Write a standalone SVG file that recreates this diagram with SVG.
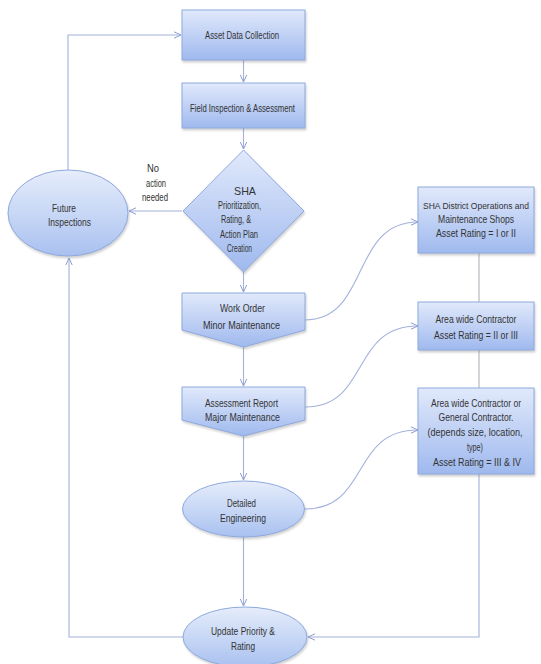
<svg xmlns="http://www.w3.org/2000/svg" width="541" height="664" viewBox="0 0 541 664">
  <defs>
    <linearGradient id="boxFill" x1="0" y1="0" x2="0" y2="1">
      <stop offset="0" stop-color="#e1e9fb"/>
      <stop offset="1" stop-color="#9fb9ee"/>
    </linearGradient>
    <linearGradient id="ovalFill" x1="0" y1="0" x2="0" y2="1">
      <stop offset="0" stop-color="#e6edfb"/>
      <stop offset="1" stop-color="#a9c1f0"/>
    </linearGradient>
    <filter id="shadow" x="-10%" y="-10%" width="125%" height="135%">
      <feDropShadow dx="1" dy="2" stdDeviation="1.2" flood-color="#7a7a7a" flood-opacity="0.35"/>
    </filter>
    <marker id="arrow" viewBox="0 0 8 8" refX="7.5" refY="4" markerWidth="8" markerHeight="8" markerUnits="userSpaceOnUse" orient="auto">
      <path d="M0.5,0.8 L7.5,4 L0.5,7.2" fill="none" stroke="#8c9fd2" stroke-width="1"/>
    </marker>
  </defs>
  <style>
    .shape { fill: url(#boxFill); stroke: #8ea9de; stroke-width: 1; filter: url(#shadow); }
    .oval { fill: url(#ovalFill); stroke: #8ea9de; stroke-width: 1; filter: url(#shadow); }
    .lbl { font-family: "Liberation Sans Narrow", "Liberation Sans", Arial, sans-serif; font-size: 11.5px; fill: #333333; text-anchor: middle; }
    .sm { font-size: 10.5px; }
    .xs { font-size: 9.2px; }
    .link { fill: none; stroke: #a3b1dc; stroke-width: 1.1; }
    .gray { fill: none; stroke: #a9a9b4; stroke-width: 1; }
  </style>

  <rect width="541" height="664" fill="#ffffff"/>

  <!-- connectors -->
  <g id="connectors">
    <path class="link" d="M243.5,60 V82" marker-end="url(#arrow)"/>
    <path class="link" d="M243.5,128 V149" marker-end="url(#arrow)"/>
    <path class="link" d="M182,211 H129" marker-end="url(#arrow)"/>
    <path class="link" d="M243.5,272 V292" marker-end="url(#arrow)"/>
    <path class="link" d="M243.5,347 V386" marker-end="url(#arrow)"/>
    <path class="link" d="M243.5,436 V480" marker-end="url(#arrow)"/>
    <path class="link" d="M243.5,537 V606" marker-end="url(#arrow)"/>
    <path class="link" d="M68,170 V35 H181" marker-end="url(#arrow)"/>
    <path class="link" d="M183,637 H69 V258" marker-end="url(#arrow)"/>
    <path class="link" d="M305,320 C370,320 350,222 418,222" marker-end="url(#arrow)"/>
    <path class="link" d="M305,407 C370,407 350,326 418,326" marker-end="url(#arrow)"/>
    <path class="link" d="M305,509 C370,509 350,430 418,430" marker-end="url(#arrow)"/>
    <path class="gray" d="M479,253 V302"/>
    <path class="gray" d="M479,350 V388"/>
    <path class="link" d="M479,474 V637 H308" marker-end="url(#arrow)"/>
    <text class="lbl" x="153" y="172" textLength="12" lengthAdjust="spacingAndGlyphs">No</text>
    <text class="lbl" x="156" y="187" textLength="20" lengthAdjust="spacingAndGlyphs">action</text>
    <text class="lbl" x="155" y="201" textLength="26" lengthAdjust="spacingAndGlyphs">needed</text>
  </g>

  <g id="asset-data-collection">
    <rect class="shape" x="182" y="10" width="123" height="50"/>
    <text class="lbl" x="242" y="39" textLength="74" lengthAdjust="spacingAndGlyphs">Asset Data Collection</text>
  </g>

  <g id="field-inspection">
    <rect class="shape" x="182" y="83" width="123" height="45"/>
    <text class="lbl" x="242.5" y="112" textLength="105" lengthAdjust="spacingAndGlyphs">Field Inspection &amp; Assessment</text>
  </g>

  <g id="sha-prioritization">
    <polygon class="shape" points="243.5,150 304,211 243.5,272 183,211"/>
    <text class="lbl" x="245" y="195" textLength="22" lengthAdjust="spacingAndGlyphs">SHA</text>
    <text class="lbl" x="239.5" y="209" textLength="43" lengthAdjust="spacingAndGlyphs">Prioritization,</text>
    <text class="lbl" x="236" y="223" textLength="30" lengthAdjust="spacingAndGlyphs">Rating, &amp;</text>
    <text class="lbl" x="239" y="238" textLength="38" lengthAdjust="spacingAndGlyphs">Action Plan</text>
    <text class="lbl" x="239.5" y="252" textLength="25" lengthAdjust="spacingAndGlyphs">Creation</text>
  </g>

  <g id="future-inspections">
    <ellipse class="oval" cx="68" cy="213" rx="60" ry="43"/>
    <text class="lbl" x="64" y="212" textLength="24" lengthAdjust="spacingAndGlyphs">Future</text>
    <text class="lbl" x="69.5" y="226" textLength="43" lengthAdjust="spacingAndGlyphs">Inspections</text>
  </g>

  <g id="work-order">
    <path class="shape" d="M182,293 H305 V330 L243.5,347 L182,330 Z"/>
    <text class="lbl" x="242.5" y="312" textLength="45" lengthAdjust="spacingAndGlyphs">Work Order</text>
    <text class="lbl" x="241.5" y="329" textLength="77" lengthAdjust="spacingAndGlyphs">Minor Maintenance</text>
  </g>

  <g id="assessment-report">
    <path class="shape" d="M182,387 H305 V420 L243.5,436 L182,420 Z"/>
    <text class="lbl" x="241.5" y="407" textLength="73" lengthAdjust="spacingAndGlyphs">Assessment Report</text>
    <text class="lbl" x="242.5" y="421" textLength="75" lengthAdjust="spacingAndGlyphs">Major Maintenance</text>
  </g>

  <g id="detailed-engineering">
    <ellipse class="oval" cx="243.5" cy="509" rx="61" ry="28"/>
    <text class="lbl" x="241.5" y="507" textLength="29" lengthAdjust="spacingAndGlyphs">Detailed</text>
    <text class="lbl" x="243" y="522" textLength="46" lengthAdjust="spacingAndGlyphs">Engineering</text>
  </g>

  <g id="update-priority">
    <ellipse class="oval" cx="245" cy="637" rx="62" ry="30"/>
    <text class="lbl" x="243" y="635" textLength="64" lengthAdjust="spacingAndGlyphs">Update Priority &amp;</text>
    <text class="lbl" x="243" y="650" textLength="24" lengthAdjust="spacingAndGlyphs">Rating</text>
  </g>

  <g id="district-shops">
    <rect class="shape" x="418" y="187" width="116" height="66"/>
    <text class="lbl xs" x="476" y="209" textLength="106" lengthAdjust="spacingAndGlyphs">SHA District Operations and</text>
    <text class="lbl sm" x="476" y="223" textLength="76" lengthAdjust="spacingAndGlyphs">Maintenance Shops</text>
    <text class="lbl sm" x="476" y="237" textLength="80" lengthAdjust="spacingAndGlyphs">Asset Rating  = I or II</text>
  </g>

  <g id="area-contractor">
    <rect class="shape" x="418" y="302" width="116" height="48"/>
    <text class="lbl sm" x="476" y="323" textLength="81" lengthAdjust="spacingAndGlyphs">Area wide Contractor</text>
    <text class="lbl sm" x="476" y="339" textLength="84" lengthAdjust="spacingAndGlyphs">Asset Rating  = II or III</text>
  </g>

  <g id="general-contractor">
    <rect class="shape" x="418" y="388" width="116" height="86"/>
    <text class="lbl sm" x="476" y="407" textLength="90" lengthAdjust="spacingAndGlyphs">Area wide Contractor or</text>
    <text class="lbl sm" x="476" y="421" textLength="75" lengthAdjust="spacingAndGlyphs">General Contractor.</text>
    <text class="lbl sm" x="475" y="436" textLength="95" lengthAdjust="spacingAndGlyphs">(depends size, location,</text>
    <text class="lbl sm" x="475" y="451" textLength="16" lengthAdjust="spacingAndGlyphs">type)</text>
    <text class="lbl sm" x="477" y="466" textLength="88" lengthAdjust="spacingAndGlyphs">Asset Rating  = III &amp; IV</text>
  </g>
</svg>
